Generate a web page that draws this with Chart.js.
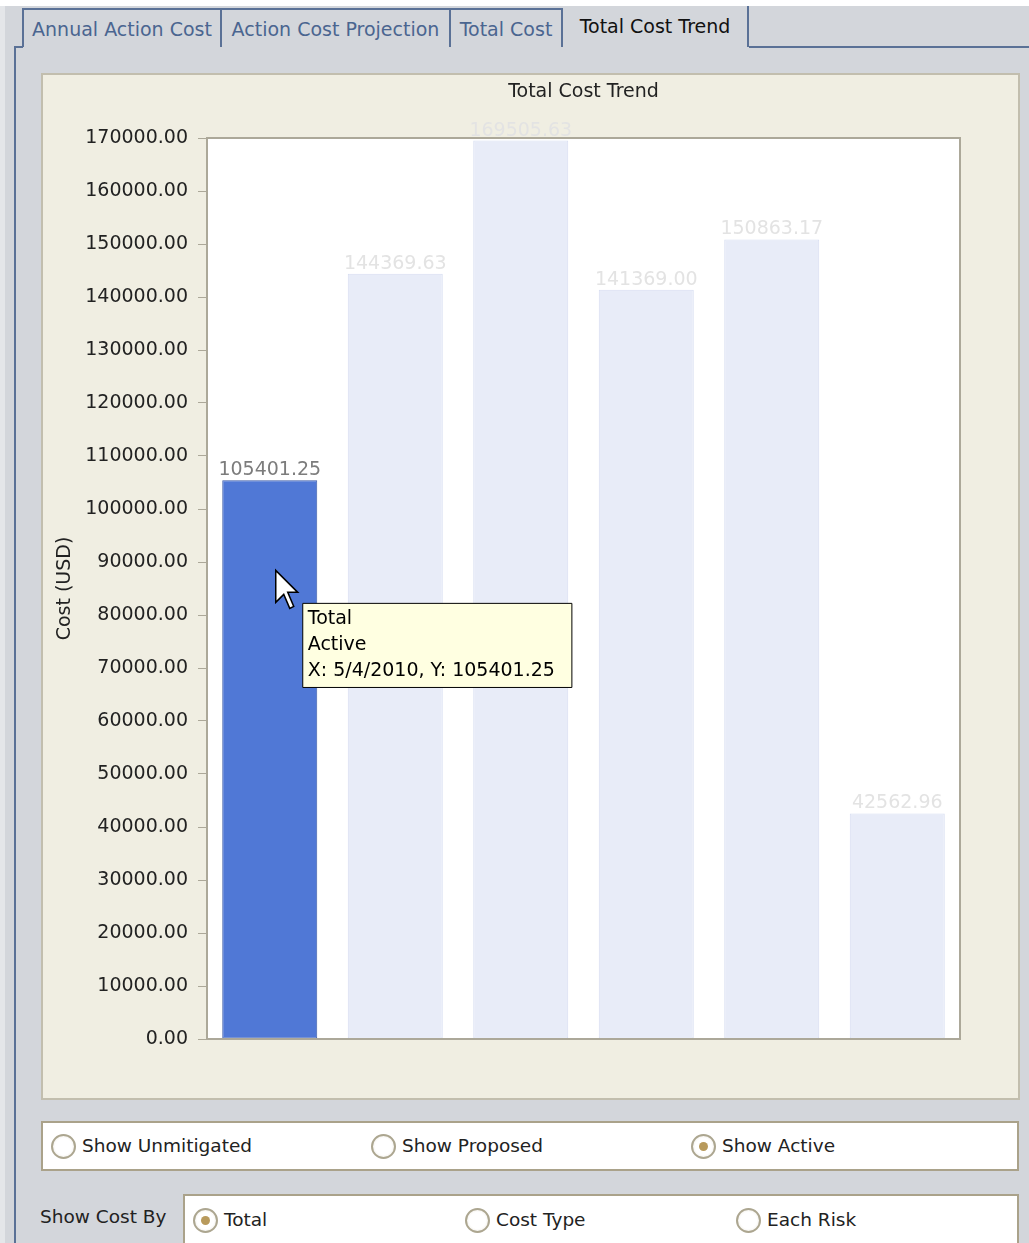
<!DOCTYPE html>
<html>
<head>
    <title>Total Cost Trend</title>
    <meta charset="UTF-8">
    <script src="https://cdn.jsdelivr.net/npm/chart.js"></script>
    <style>
        body {
            margin: 0;
            width: 1029px;
            height: 1243px;
            overflow: hidden;
            position: relative;
            background-color: #d3d6db;
            font-family: "DejaVu Sans", sans-serif;
            font-size: 18.5px;
            color: #222;
        }
        .topstrip { position: absolute; left: 0; top: 0; width: 1029px; height: 6px; background: #fff; }
        .leftstrip { position: absolute; left: 0; top: 6px; width: 5px; height: 1237px; background: #e4e6e9; }
        .tab {
            position: absolute;
            top: 8px;
            height: 37px;
            border: 2px solid #5a7196;
            border-bottom: none;
            color: #4a6590;
            font-size: 19px;
            line-height: 38px;
            text-align: center;
            box-sizing: content-box;
        }
        .tab.active {
            top: 6px;
            height: 41px;
            border: none;
            border-right: 2px solid #5a7196;
            color: #111;
            line-height: 40px;
        }
        .panel-left { position: absolute; left: 14px; top: 46px; width: 2px; height: 1200px; background: #5a7196; }
        .panel-top1 { position: absolute; left: 14px; top: 46px; width: 9px; height: 2px; background: #5a7196; }
        .panel-top2 { position: absolute; left: 749px; top: 46px; width: 280px; height: 2px; background: #5a7196; }
        .chart-box {
            position: absolute;
            left: 41px;
            top: 73px;
            width: 975px;
            height: 1023px;
            background-color: #f0eee2;
            border: 2px solid #c2beae;
        }
        .radio-box {
            position: absolute;
            background: #fff;
            border: 2px solid #aaa28a;
            box-sizing: border-box;
        }
        .radio {
            position: absolute;
            top: 50%;
            margin-top: -12px;
            height: 24px;
            line-height: 24px;
            white-space: nowrap;
        }
        .radio .dot {
            display: inline-block;
            vertical-align: top;
            width: 21px;
            height: 21px;
            border: 2px solid #aca690;
            border-radius: 50%;
            background: radial-gradient(circle, #fff 55%, #e6e2d6 100%);
            position: relative;
            margin-right: 6px;
        }
        .radio .dot.on::after {
            content: "";
            position: absolute;
            left: 6px;
            top: 6px;
            width: 9px;
            height: 9px;
            border-radius: 50%;
            background: #b89a5c;
        }
        .label-by { position: absolute; left: 40px; top: 1206px; font-size: 18.5px; }
    </style>
</head>
<body>
    <div class="topstrip"></div>
    <div class="leftstrip"></div>

    <!-- abas -->
    <div class="tab" style="left:22px; width:196px;">Annual Action Cost</div>
    <div class="tab" style="left:220px; width:227px;">Action Cost Projection</div>
    <div class="tab" style="left:449px; width:110px;">Total Cost</div>
    <div class="tab active" style="left:563px; width:184px;">Total Cost Trend</div>
    <div class="panel-left"></div>
    <div class="panel-top1"></div>
    <div class="panel-top2"></div>

    <div class="chart-box">
        <canvas id="trendChart"></canvas>
    </div>

    <div class="radio-box" style="left:41px; top:1121px; width:978px; height:50px;">
        <div class="radio" style="left:8px;"><span class="dot"></span>Show Unmitigated</div>
        <div class="radio" style="left:328px;"><span class="dot"></span>Show Proposed</div>
        <div class="radio" style="left:648px;"><span class="dot on"></span>Show Active</div>
    </div>

    <div class="label-by">Show Cost By</div>
    <div class="radio-box" style="left:183px; top:1194px; width:836px; height:60px;">
        <div class="radio" style="left:8px; top:24px;"><span class="dot on"></span>Total</div>
        <div class="radio" style="left:280px; top:24px;"><span class="dot"></span>Cost Type</div>
        <div class="radio" style="left:551px; top:24px;"><span class="dot"></span>Each Risk</div>
    </div>

    <script>
        // dados do gráfico
        const chartTitle = 'Total Cost Trend';
        const periods = ['5/4/2010', 'Period 2', 'Period 3', 'Period 4', 'Period 5', 'Period 6'];
        const totalCost = [105401.25, 144369.63, 169505.63, 141369.00, 150863.17, 42562.96];
        const yTicks = [0, 10000, 20000, 30000, 40000, 50000, 60000, 70000, 80000, 90000,
                        100000, 110000, 120000, 130000, 140000, 150000, 160000, 170000];
        const activeIndex = 0;
        const seriesName = 'Total';
        const stateName = 'Active';

        Chart.defaults.font.family = '"DejaVu Sans", sans-serif';
        Chart.defaults.font.size = 19;
        Chart.defaults.color = '#222';

        // tooltip fixo perto do cursor
        Chart.Tooltip.positioners.nearCursor = function(items) {
            if (!items.length) return false;
            const el = items[0].element;
            return { x: el.x + 33, y: el.y + 123 };
        };

        // fundo branco da área do gráfico, borda, título, rótulos e cursor
        const plotDecor = {
            id: 'plotDecor',
            beforeDatasetsDraw(chart) {
                const { ctx, chartArea: a } = chart;
                ctx.save();
                ctx.fillStyle = '#ffffff';
                ctx.fillRect(a.left, a.top, a.right - a.left, a.bottom - a.top);

                // título centrado sobre a área do gráfico
                ctx.fillStyle = '#222';
                ctx.font = '19px "DejaVu Sans", sans-serif';
                ctx.textAlign = 'center';
                ctx.textBaseline = 'middle';
                ctx.fillText(chartTitle, (a.left + a.right) / 2, 17);
                ctx.restore();
            },
            afterDatasetsDraw(chart) {
                const { ctx, chartArea: a } = chart;
                ctx.save();
                ctx.strokeStyle = '#aca899';
                ctx.lineWidth = 2;
                ctx.strokeRect(a.left, a.top, a.right - a.left, a.bottom - a.top);

                // valores acima das barras
                const meta = chart.getDatasetMeta(0);
                ctx.font = '19px "DejaVu Sans", sans-serif';
                ctx.textAlign = 'center';
                ctx.textBaseline = 'alphabetic';
                meta.data.forEach((bar, i) => {
                    ctx.fillStyle = i === activeIndex ? '#7c7c7c' : '#e3e3e3';
                    ctx.fillText(totalCost[i].toFixed(2), bar.x, bar.y - 5);
                });

                // seta do mouse
                const b = meta.data[activeIndex];
                const cx = b.x + 6, cy = b.y + 90, s = 2;
                const pts = [[0,0],[0,16],[4,12],[7,19],[9,18],[6,11],[11,11]];
                ctx.beginPath();
                pts.forEach((p, k) => {
                    const px = cx + p[0] * s, py = cy + p[1] * s;
                    if (k === 0) ctx.moveTo(px, py); else ctx.lineTo(px, py);
                });
                ctx.closePath();
                ctx.fillStyle = '#ffffff';
                ctx.fill();
                ctx.strokeStyle = '#000000';
                ctx.lineWidth = 1.5;
                ctx.stroke();
                ctx.restore();
            }
        };

        const chart = new Chart(document.getElementById('trendChart'), {
            type: 'bar',
            data: {
                labels: periods,
                datasets: [{
                    label: seriesName,
                    data: totalCost,
                    backgroundColor: ctx => ctx.dataIndex === activeIndex ? '#5078d6' : '#e8ecf8',
                    borderColor: ctx => ctx.dataIndex === activeIndex ? '#3b5ba8' : '#d6ddf1',
                    borderWidth: 1,
                    borderSkipped: false,
                    categoryPercentage: 1.0,
                    barPercentage: 0.757
                }]
            },
            plugins: [plotDecor],
            options: {
                responsive: true,
                maintainAspectRatio: false,
                animation: false,
                events: [],
                layout: {
                    padding: { left: 7, right: 58, top: 63, bottom: 59 }
                },
                scales: {
                    x: {
                        display: false
                    },
                    y: {
                        min: 0,
                        max: 170000,
                        afterBuildTicks: scale => {
                            scale.ticks = yTicks.map(v => ({ value: v }));
                        },
                        afterFit: scale => {
                            scale.width = 157;
                        },
                        ticks: {
                            padding: 10,
                            color: '#222',
                            callback: value => Number(value).toFixed(2)
                        },
                        grid: {
                            drawOnChartArea: false,
                            tickLength: 9,
                            tickColor: '#aca899'
                        },
                        border: { display: false },
                        title: {
                            display: true,
                            text: 'Cost (USD)',
                            color: '#222',
                            font: { size: 19 }
                        }
                    }
                },
                plugins: {
                    legend: { display: false },
                    title: { display: false },
                    tooltip: {
                        position: 'nearCursor',
                        xAlign: 'left',
                        yAlign: 'top',
                        caretSize: 0,
                        caretPadding: 0,
                        cornerRadius: 0,
                        displayColors: false,
                        backgroundColor: '#ffffe1',
                        borderColor: '#000000',
                        borderWidth: 1,
                        titleColor: '#000',
                        bodyColor: '#000',
                        titleFont: { size: 19, weight: 'normal', lineHeight: 1.37 },
                        bodyFont: { size: 19, lineHeight: 1.37 },
                        titleMarginBottom: 0,
                        titleSpacing: 0,
                        bodySpacing: 0,
                        padding: { left: 5, right: 17, top: 3, bottom: 3 },
                        callbacks: {
                            title: () => seriesName,
                            label: ctx => [stateName, 'X: ' + periods[ctx.dataIndex] + ', Y: ' + ctx.raw.toFixed(2)]
                        }
                    }
                }
            }
        });

        // mostra o tooltip da barra ativa
        chart.tooltip.setActiveElements([{ datasetIndex: 0, index: activeIndex }], { x: 0, y: 0 });
        chart.draw();
    </script>
</body>
</html>
